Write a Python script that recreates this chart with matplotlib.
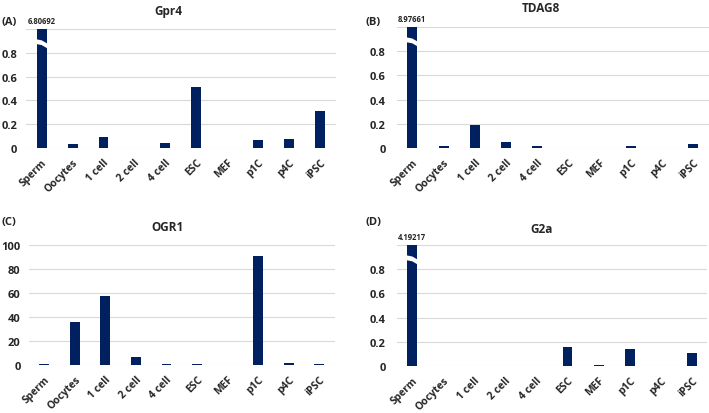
import matplotlib
matplotlib.use("Agg")
import matplotlib.pyplot as plt
import matplotlib.transforms as mtransforms
from matplotlib.patches import Polygon
from matplotlib.ticker import FuncFormatter, MultipleLocator

plt.rcParams['font.family'] = ['Open Sans', 'DejaVu Sans']

categories = ["Sperm", "Oocytes", "1 cell", "2 cell", "4 cell", "ESC", "MEF", "p1C", "p4C", "iPSC"]

gpr4 = [6.80692, 0.03, 0.09, 0.0, 0.042, 0.51, 0.0, 0.065, 0.076, 0.31]
tdag8 = [8.97661, 0.02, 0.193, 0.052, 0.02, 0.0, 0.0, 0.02, 0.0, 0.03]
ogr1 = [1.0, 35.5, 57.5, 6.5, 1.0, 1.0, 0.0, 91.0, 2.0, 1.0]
g2a = [4.19217, 0.0, 0.0, 0.0, 0.0, 0.16, 0.01, 0.138, 0.0, 0.105]

titles = ["Gpr4", "TDAG8", "OGR1", "G2a"]
panel_labels = ["(A)", "(B)", "(C)", "(D)"]

BAR = "#002060"
GRID = "#d9d9d9"
TXT = "#262626"

W, H = 709, 414
fig = plt.figure(figsize=(W / 100, H / 100), dpi=100)

def px_axes(left, right, top, bottom):
    return fig.add_axes([left / W, 1 - bottom / H, (right - left) / W, (bottom - top) / H])

# (left, right, top, bottom) in pixels
boxes = [
    (26.2, 335.5, 30, 149),
    (396.7, 708.9, 28, 149),
    (29.0, 334.5, 246, 366),
    (396.8, 707.2, 246, 367),
]
datasets = [gpr4, tdag8, ogr1, g2a]
ylims = [1.0, 1.0, 100, 1.0]
steps = [0.2, 0.2, 20, 0.2]
ypads = [6.5, 8, 6, 8]
title_y = [12, 8, 228, 230]
title_x = [168, 541, 167, 542]

def fmt_small(v, pos):
    if abs(v - 1.0) < 1e-9:
        return ""
    if abs(v) < 1e-9:
        return "0"
    return f"{v:.1f}"

def fmt_big(v, pos):
    return f"{v:.0f}"

axes = []
for i, (box, data) in enumerate(zip(boxes, datasets)):
    ax = px_axes(*box)
    axes.append(ax)
    x = list(range(len(categories)))
    ax.bar(x, data, width=0.32, color=BAR, zorder=3)
    ax.set_xlim(-0.5, len(categories) - 0.5)
    ax.set_ylim(0, ylims[i])
    ax.yaxis.set_major_locator(MultipleLocator(steps[i]))
    ax.yaxis.set_major_formatter(FuncFormatter(fmt_big if ylims[i] > 1 else fmt_small))
    ax.grid(axis='y', color=GRID, linewidth=0.8, zorder=0)
    ax.set_axisbelow(True)
    for s in ax.spines.values():
        s.set_visible(False)
    ax.tick_params(axis='both', length=0)
    ax.tick_params(axis='y', pad=ypads[i], labelsize=8, labelcolor=TXT)
    ax.set_xticks(x)
    ax.set_xticklabels(categories, rotation=45, ha='right', rotation_mode='anchor',
                       fontsize=7.5, fontweight='bold', color=TXT)
    ax.tick_params(axis='x', pad=6)
    for lab in ax.get_yticklabels():
        lab.set_fontweight('bold')
    ax.patch.set_alpha(0)
    fig.text(title_x[i] / W, 1 - title_y[i] / H, titles[i], fontsize=8.5,
             fontweight='bold', color=TXT, ha='center', va='center')

    # break marks for bars exceeding the axis
    top = ylims[i]
    for j, v in enumerate(data):
        if v > top:
            trans = mtransforms.blended_transform_factory(ax.transData, ax.transAxes)
            hw = 0.2
            poly = Polygon([(j - hw, 0.915), (j, 0.905), (j + hw, 0.875),
                            (j + hw, 0.835), (j, 0.865), (j - hw, 0.875)],
                           closed=True, transform=trans, facecolor='white',
                           edgecolor='none', zorder=4)
            ax.add_patch(poly)
            ax.annotate(f"{v:.5f}", xy=(j, 1.0), xycoords=trans, xytext=(0, 3),
                        textcoords='offset points', ha='center', va='bottom',
                        fontsize=5.5, fontweight='bold', color=TXT)

# panel labels
fig.text(2 / W, 1 - 22 / H, "(A)", fontsize=8, fontweight='bold', color=TXT, va='center')
fig.text(366 / W, 1 - 22 / H, "(B)", fontsize=8, fontweight='bold', color=TXT, va='center')
fig.text(2 / W, 1 - 222 / H, "(C)", fontsize=8, fontweight='bold', color=TXT, va='center')
fig.text(366 / W, 1 - 222 / H, "(D)", fontsize=8, fontweight='bold', color=TXT, va='center')

fig.savefig("out.png", dpi=100)
